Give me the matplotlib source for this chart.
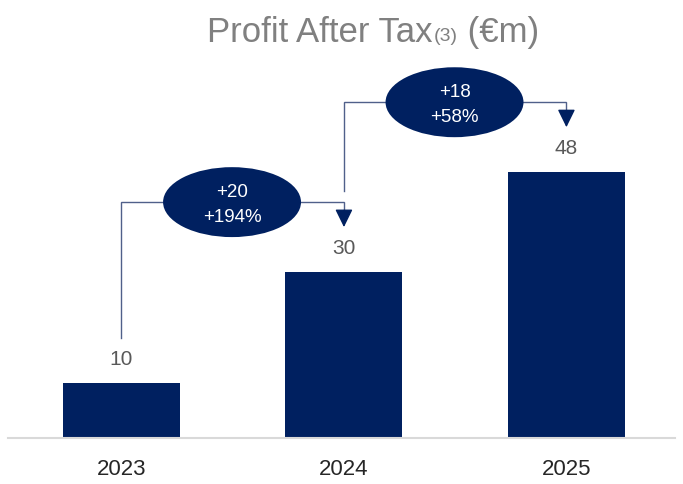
import matplotlib

matplotlib.use("Agg")
import matplotlib.pyplot as plt
from matplotlib.patches import Ellipse

# data
years = ["2023", "2024", "2025"]
profit = [10, 30, 48]
change_abs = ["+20", "+18"]
change_pct = ["+194%", "+58%"]

NAVY = "#002060"
LINE = "#50608a"
TITLE_GREY = "#808080"
LABEL_GREY = "#595959"

plt.rcParams["font.family"] = ["Liberation Sans", "DejaVu Sans"]

fig = plt.figure(figsize=(6.83, 4.84), dpi=100)
W, H = 683, 484

# axes: x pixels 8..675, baseline at pixel 438 from top
ax = fig.add_axes([8 / W, (H - 438) / H, 667 / W, 438 / H])
ax.set_xlim(-0.51, 2.488)
ax.set_ylim(0, 438 / 5.55)

x = list(range(len(years)))
ax.bar(x, profit, width=0.526, color=NAVY, zorder=2)

for xi, v in zip(x, profit):
    ax.text(xi, v + 4.2, str(v), ha="center", va="center", fontsize=15, color=LABEL_GREY)

# growth connectors
prev_level = None
for i in range(len(profit) - 1):
    level = profit[i + 1] + 12.5
    start = profit[i] + 8
    if prev_level is not None:
        start = max(start, prev_level + 2)
    tip = profit[i + 1] + 8
    ax.plot([i, i, i + 1, i + 1], [start, level, level, tip + 2], color=LINE, lw=1, zorder=1,
            solid_joinstyle="miter")
    ax.annotate("", xy=(i + 1, tip), xytext=(i + 1, tip + 3),
                arrowprops=dict(arrowstyle="-|>,head_length=0.55,head_width=0.27",
                                mutation_scale=20, color=NAVY, shrinkA=0, shrinkB=0, lw=1))
    ax.add_patch(Ellipse((i + 0.497, level), 0.62, 12.6, facecolor=NAVY, edgecolor="none", zorder=3))
    ax.text(i + 0.497, level + 1.8, change_abs[i], ha="center", va="center", fontsize=13.5,
            color="white", zorder=4)
    ax.text(i + 0.497, level - 2.7, change_pct[i], ha="center", va="center", fontsize=13.5,
            color="white", zorder=4)
    prev_level = level

for s in ["top", "left", "right"]:
    ax.spines[s].set_visible(False)
ax.spines["bottom"].set_color("#d9d9d9")
ax.spines["bottom"].set_linewidth(1.5)
ax.set_yticks([])
ax.set_xticks(x)
ax.set_xticklabels(years, fontsize=16, color="#262626")
ax.tick_params(axis="x", length=0, pad=15)

# title with small "(3)" reference
renderer = fig.canvas.get_renderer()
ty = 1 - 33 / H
t1 = fig.text(207 / W, ty, "Profit After Tax", fontsize=25, color=TITLE_GREY, va="center", ha="left")
bb = t1.get_window_extent(renderer)
t2 = fig.text(bb.x1 / W + 1 / W, ty - 4 / H, "(3)", fontsize=14, color=TITLE_GREY, va="center", ha="left")
bb2 = t2.get_window_extent(renderer)
fig.text(bb2.x1 / W, ty, " (€m)", fontsize=25, color=TITLE_GREY, va="center", ha="left")

fig.savefig("out.png", dpi=100)
